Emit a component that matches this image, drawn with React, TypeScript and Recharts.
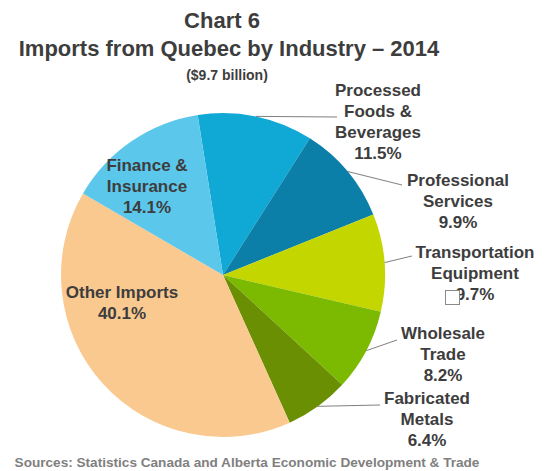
import { PieChart, Pie, Cell } from "recharts";

const categories = [
  "Processed Foods & Beverages",
  "Professional Services",
  "Transportation Equipment",
  "Wholesale Trade",
  "Fabricated Metals",
  "Other Imports",
  "Finance & Insurance",
];
const shares = [11.5, 9.9, 9.7, 8.2, 6.4, 40.1, 14.1];
const labelNames = [
  ["Processed", "Foods &", "Beverages"],
  ["Professional", "Services"],
  ["Transportation", "Equipment"],
  ["Wholesale", "Trade"],
  ["Fabricated", "Metals"],
  ["Other Imports"],
  ["Finance &", "Insurance"],
];
const colors = ["#10A8D4", "#0B7FA8", "#C4D600", "#7BBA00", "#6B8F02", "#FAC990", "#5BC7EB"];

// label placement (text centre, first line) and leader line end, null = inside slice
const labelLayout = [
  { x: 378, y: 90, end: [337, 117] },
  { x: 458, y: 180, end: [402, 185] },
  { x: 475, y: 252, end: [412, 256] },
  { x: 443, y: 333, end: [397, 340] },
  { x: 427, y: 398, end: [380, 405] },
  { x: 122, y: 292, end: null },
  { x: 147, y: 165, end: null },
];

const data = categories.map((name, i) => ({ name, value: shares[i] }));

const FONT = "'Liberation Sans', Arial, sans-serif";
const TEXT = "#3d3d3d";
const RADIAN = Math.PI / 180;
const LINE_H = 21;

function renderLabel(props: any) {
  const { cx, cy, midAngle, outerRadius, index } = props;
  const lay = labelLayout[index];
  const lines = [...labelNames[index], shares[index].toFixed(1) + "%"];
  let leader = null;
  if (lay.end) {
    const sx = cx + outerRadius * Math.cos(-midAngle * RADIAN);
    const sy = cy + outerRadius * Math.sin(-midAngle * RADIAN);
    leader = (
      <line x1={sx} y1={sy} x2={lay.end[0]} y2={lay.end[1]} stroke="#7f7f7f" strokeWidth={1} />
    );
  }
  return (
    <g key={"lbl" + index}>
      {leader}
      <text
        x={lay.x}
        y={lay.y}
        textAnchor="middle"
        fill={TEXT}
        fontFamily={FONT}
        fontWeight="bold"
        fontSize={17}
      >
        {lines.map((t, j) => (
          <tspan key={j} x={lay.x} y={lay.y + j * LINE_H} dominantBaseline="central">
            {t}
          </tspan>
        ))}
      </text>
    </g>
  );
}

export default function App() {
  const center = (x: number, y: number, size: number, color: string, text: string, w = 551) => (
    <div
      style={{
        position: "absolute",
        left: x - w / 2,
        top: y - size * 0.6,
        width: w,
        lineHeight: `${size * 1.2}px`,
        fontSize: size,
        fontFamily: FONT,
        fontWeight: "bold",
        color,
        textAlign: "center",
        whiteSpace: "nowrap",
      }}
    >
      {text}
    </div>
  );

  return (
    <div style={{ position: "absolute", left: 0, top: 0, width: 551, height: 471, background: "#fff" }}>
      <div style={{ position: "absolute", left: 0, top: 0 }}>
        <PieChart width={551} height={471}>
          <Pie
            data={data}
            dataKey="value"
            nameKey="name"
            cx={218}
            cy={270}
            outerRadius={162}
            startAngle={99}
            endAngle={-261}
            stroke="none"
            label={renderLabel}
            labelLine={false}
            isAnimationActive={false}
          >
            {data.map((d, i) => (
              <Cell key={d.name} fill={colors[i]} />
            ))}
          </Pie>
        </PieChart>
      </div>
      {center(222, 21, 22, TEXT, "Chart 6")}
      {center(229, 49, 22, TEXT, "Imports from Quebec by Industry \u2013 2014")}
      {center(227, 75, 14, TEXT, "($9.7 billion)")}
      {center(247, 463, 13.6, "#808080", "Sources: Statistics Canada and Alberta Economic Development & Trade")}
      <div
        style={{
          position: "absolute",
          left: 445,
          top: 290,
          width: 13,
          height: 13,
          background: "#fff",
          border: "1px solid #8a8a8a",
        }}
      />
    </div>
  );
}
